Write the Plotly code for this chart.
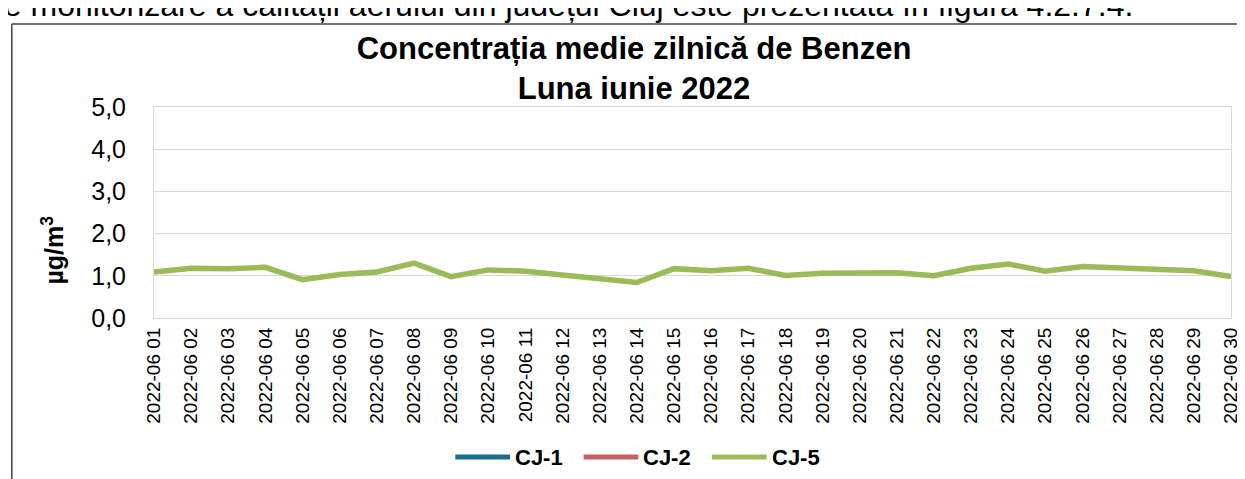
import plotly.graph_objects as go

# ---- data ----
days = [f"2022-06 {d:02d}" for d in range(1, 31)]
cj1 = [None] * 30
cj2 = [None] * 30
cj5 = [1.09, 1.18, 1.17, 1.20, 0.91, 1.03, 1.09, 1.30, 0.98, 1.14,
       1.11, 1.01, 0.93, 0.84, 1.17, 1.12, 1.18, 1.01, 1.06, 1.08,
       1.07, 1.00, 1.18, 1.28, 1.11, 1.22, 1.18, 1.17, 1.12, 0.98]
series_names = ["CJ-1", "CJ-2", "CJ-5"]
series_colors = ["#1b6e91", "#c2625e", "#9bbb59"]
y_tickvals = [0, 1, 2, 3, 4, 5]
y_ticktext = ["0,0", "1,0", "2,0", "3,0", "4,0", "5,0"]
title_text = "<b>Concentrația medie zilnică de Benzen<br>Luna iunie 2022</b>"
top_text = "de monitorizare a calității aerului din județul Cluj este prezentată în figura 4.2.7.4."

W, H = 1245, 479
L, R, T, B = 146, 16, 99, 169
PW, PH = W - L - R, H - T - B

def px_x(p):
    return (p - L) / PW

def px_y(p):
    return (H - B - p) / PH

FONT = "Liberation Sans, Arial, sans-serif"

fig = go.Figure()
for name, vals, col in zip(series_names, [cj1, cj2, cj5], series_colors):
    fig.add_trace(go.Scatter(x=days, y=vals, mode="lines", name=name,
                             line=dict(color=col, width=5.5), connectgaps=False,
                             showlegend=False))

fig.update_layout(
    width=W, height=H,
    margin=dict(l=L, r=R, t=T, b=B),
    paper_bgcolor="white", plot_bgcolor="white",
    font=dict(family=FONT, color="black"),
    title=dict(text=title_text, x=626 / W, xanchor="center", xref="container",
               y=1 - 51 / H, yanchor="middle", yref="container",
               font=dict(family=FONT, size=31, color="black")),
    showlegend=False,
)

fig.update_xaxes(type="category", range=[0, 29], showgrid=False,
                 showline=True, linecolor="#d9d9d9", linewidth=1, mirror=True,
                 tickangle=-90, ticks="", ticklabelstandoff=1,
                 tickfont=dict(family=FONT, size=19, color="black"))
fig.update_yaxes(range=[0, 5], tickvals=y_tickvals, ticktext=y_ticktext,
                 showgrid=True, gridcolor="#d9d9d9", gridwidth=1,
                 showline=True, linecolor="#d9d9d9", linewidth=1, mirror=True,
                 zeroline=False, ticks="", ticklabelstandoff=22,
                 tickfont=dict(family=FONT, size=25, color="black"))

# y axis title
fig.add_annotation(text="<b>µg/m<sup>3</sup></b>", textangle=-90,
                   xref="paper", yref="paper", x=px_x(44), y=px_y(242),
                   xanchor="center", yanchor="middle", showarrow=False,
                   font=dict(family=FONT, size=25, color="black"))

# legend drawn by hand (longer key lines, as in the reference)
leg_y = px_y(449)
leg_line_x = [449, 578, 707]
for name, col, lx in zip(series_names, series_colors, leg_line_x):
    fig.add_shape(type="line", xref="paper", yref="paper",
                  x0=px_x(lx), x1=px_x(lx + 55), y0=leg_y, y1=leg_y,
                  line=dict(color=col, width=5))
    fig.add_annotation(text=f"<b>{name}</b>", xref="paper", yref="paper",
                       x=px_x(lx + 58), y=leg_y, xanchor="left", yanchor="middle",
                       showarrow=False,
                       font=dict(family=FONT, size=22, color="black"))

# surrounding text of the scanned page (cut off at top)
fig.add_annotation(text=top_text, xref="paper", yref="paper",
                   x=px_x(1132), y=px_y(17), xanchor="right", yanchor="bottom",
                   showarrow=False,
                   font=dict(family=FONT, size=32, color="black"))

# chart frame
fig.add_shape(type="line", xref="paper", yref="paper",
              x0=px_x(3), x1=px_x(1260), y0=px_y(16), y1=px_y(16),
              line=dict(color="#444444", width=1.5))
fig.add_shape(type="line", xref="paper", yref="paper",
              x0=px_x(3), x1=px_x(3), y0=px_y(16), y1=px_y(500),
              line=dict(color="#444444", width=1.5))

fig.write_html("out.html")
